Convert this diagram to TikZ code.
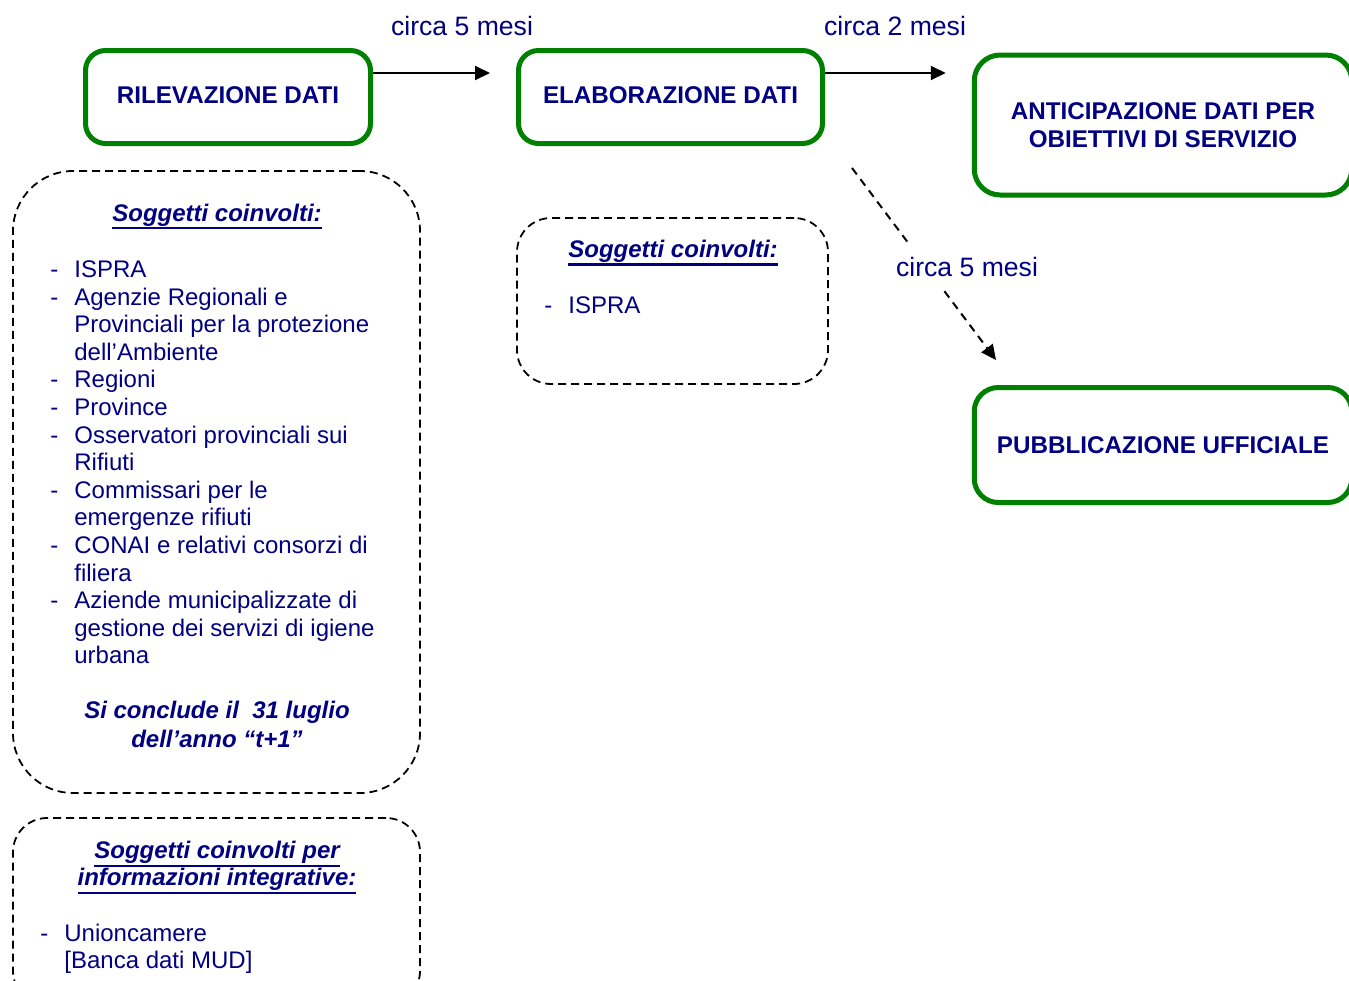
\documentclass[tikz,border=0pt]{standalone}
\usepackage{fontspec}
\setmainfont{Liberation Sans}
\usetikzlibrary{arrows.meta}
\definecolor{navy}{RGB}{0,0,128}
\definecolor{dgreen}{RGB}{0,128,0}
\newcommand\lstdash{\makebox[12pt][l]{-}}
\newcommand\lstind{\makebox[12pt][l]{}}
\newcommand\thul[1]{\setbox0\hbox{#1}\rlap{\rule[-4pt]{\wd0}{1.1pt}}\box0}
\begin{document}
\begin{tikzpicture}[x=0.5pt,y=-0.5pt,
  gbox/.style={draw=dgreen, line width=2.5pt, text=navy, align=center,
    font=\fontsize{12.1}{14}\selectfont\bfseries},
  dbox/.style={draw=black, line width=0.9pt, dash pattern=on 4pt off 2.5pt},
  txt/.style={text=navy, font=\fontsize{12}{13.8}\selectfont, inner sep=0pt},
  lbl/.style={text=navy, font=\fontsize{13.3}{15}\selectfont, inner sep=0pt},
  ttl/.style={text=navy, font=\fontsize{12}{13.5}\selectfont\bfseries\itshape, inner sep=0pt, align=center},
  arr/.style={-{Triangle[length=7.5pt,width=7pt]}, line width=1pt},
]
\useasboundingbox (0,0) rectangle (1349,980);

% green process boxes
\node[gbox, rounded corners=10pt, minimum width=142.5pt, minimum height=46.5pt, text depth=2pt] (rilev) at (228,97) {RILEVAZIONE DATI};
\node[gbox, rounded corners=10pt, minimum width=152pt, minimum height=46.5pt, text depth=2pt] (elab) at (670.5,97) {ELABORAZIONE DATI};
\node[gbox, rounded corners=13pt, minimum width=188.75pt, minimum height=70pt] (antic) at (1163,125) {ANTICIPAZIONE DATI PER\\OBIETTIVI DI SERVIZIO};
\node[gbox, rounded corners=12pt, minimum width=188.75pt, minimum height=57.5pt] (pubbl) at (1163,445) {PUBBLICAZIONE UFFICIALE};

% dashed info boxes
\node[dbox, rounded corners=30pt, minimum width=203.5pt, minimum height=311pt] (box1) at (216.5,482) {};
\node[dbox, rounded corners=17pt, minimum width=155.5pt, minimum height=83pt] (box2) at (672.5,301) {};
\node[dbox, rounded corners=17pt, minimum width=203.5pt, minimum height=93.5pt] (box3) at (216.5,911.5) {};

% arrows
\coordinate (ya) at (0,73);
\draw[arr, shorten >=13pt] (rilev.east |- ya) -- (elab.west |- ya);
\draw[arr, shorten >=13pt] (elab.east |- ya) -- (antic.west |- ya);
\node[lbl] (l1) at (462,26) {circa 5 mesi};
\node[lbl] (l2) at (895,26) {circa 2 mesi};

\coordinate (d1) at (852,168);
\coordinate (d2) at (996,360);
\draw[arr, dash pattern=on 4pt off 3pt] (d1) -- (d2);
\node[lbl, fill=white, inner xsep=2pt, inner ysep=6pt] (l3) at (967,267) {circa 5 mesi};

% left box text
\node[ttl, anchor=base] (t1) at (217,221) {\thul{Soggetti coinvolti:}};
\node[txt, anchor=north west, align=left] (list1) at (50,260.4) {%
\lstdash ISPRA\\
\lstdash Agenzie Regionali e\\
\lstind Provinciali per la protezione\\
\lstind dell’Ambiente\\
\lstdash Regioni\\
\lstdash Province\\
\lstdash Osservatori provinciali sui\\
\lstind Rifiuti\\
\lstdash Commissari per le\\
\lstind emergenze rifiuti\\
\lstdash CONAI e relativi consorzi di\\
\lstind filiera\\
\lstdash Aziende municipalizzate di\\
\lstind gestione dei servizi di igiene\\
\lstind urbana};
\node[ttl, anchor=north, font=\fontsize{12}{14.5}\selectfont\bfseries\itshape] (concl) at (217,701) {Si conclude il\ \ 31 luglio\\dell’anno “t+1”};

% middle box text
\node[ttl, anchor=base] (t2) at (673,257.6) {\thul{Soggetti coinvolti:}};
\node[txt, anchor=base west] (list2) at (544,313.6) {\lstdash ISPRA};

% bottom box text
\node[ttl, anchor=north] (t3) at (217,841) {\thul{Soggetti coinvolti per}\\\thul{informazioni integrative:}};
\node[txt, anchor=north west, align=left] (list3) at (40,923.4) {\lstdash Unioncamere\\\lstind[Banca dati MUD]};
\end{tikzpicture}
\end{document}
